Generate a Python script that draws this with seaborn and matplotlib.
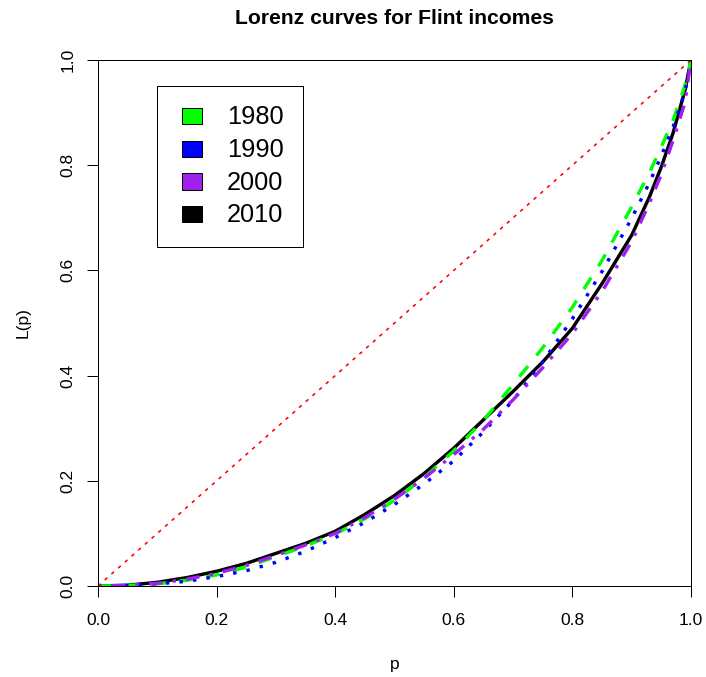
import numpy as np
import pandas as pd
import matplotlib
matplotlib.use("Agg")
import matplotlib.pyplot as plt
import seaborn as sns
from matplotlib.patches import Patch, Rectangle
from matplotlib.legend_handler import HandlerPatch

# ---------------- data ----------------
p = [0, .05, .1, .15, .2, .25, .3, .35, .4, .45, .5, .55, .6, .65, .7, .75,
     .8, .85, .9, .93, .95, .97, .99, 1.0]
L_1980 = [0, .001, .004, .011, .021, .036, .056, .076, .099, .128, .163, .206,
          .257, .315, .383, .453, .530, .619, .721, .786, .835, .886, .952, 1.0]
L_1990 = [0, .001, .004, .009, .018, .029, .045, .066, .092, .121, .155, .194,
          .238, .293, .353, .426, .508, .598, .699, .767, .818, .873, .940, 1.0]
L_2000 = [0, .001, .005, .013, .024, .039, .058, .078, .100, .130, .165, .205,
          .250, .298, .354, .415, .480, .560, .655, .728, .783, .848, .920, 1.0]
L_2010 = [0, .0015, .007, .016, .028, .043, .062, .081, .104, .136, .172, .214,
          .262, .316, .370, .426, .490, .575, .667, .740, .797, .862, .943, 1.0]
years = ["1980", "1990", "2000", "2010"]
equality = [0.0, 1.0]
x_ticks = [0.0, 0.2, 0.4, 0.6, 0.8, 1.0]
y_ticks = [0.0, 0.2, 0.4, 0.6, 0.8, 1.0]

colors = {"1980": "#00FF00", "1990": "#0000FF", "2000": "#A020F0", "2010": "#000000"}
dash = {"1980": (4, 4), "1990": (1, 3), "2000": (1, 3, 4, 3), "2010": ""}

df = pd.DataFrame({
    "p": p * 4,
    "L": L_1980 + L_1990 + L_2000 + L_2010,
    "year": sum([[y] * len(p) for y in years], []),
})

# ---------------- style ----------------
sns.set_theme(style="ticks")
plt.rcParams["font.family"] = ["Liberation Sans", "DejaVu Sans"]
plt.rcParams["axes.linewidth"] = 0.75

W, H, DPI = 706, 677, 100
PX = 72.0 / DPI  # points per pixel

fig = plt.figure(figsize=(W / DPI, H / DPI), dpi=DPI)
fig.patch.set_facecolor("white")
ax = fig.add_axes([98 / W, 91 / H, 593 / W, 526 / H])

order = ["2010", "1980", "1990", "2000"]
LW = 3.4 * PX
sns.lineplot(data=df, x="p", y="L", hue="year", style="year",
             hue_order=order, style_order=order, palette=colors,
             dashes=dash, linewidth=LW, legend=False, ax=ax,
             sort=False, estimator=None)
for ln in ax.get_lines():
    ln.set_solid_joinstyle("round")
    ln.set_dash_joinstyle("round")
ax.plot(equality, equality, color="#FF0000", linewidth=1.6 * PX,
        dashes=(2.2, 3.4))

ax.set_xlim(0, 1)
ax.set_ylim(0, 1)
ax.set_xticks(x_ticks)
ax.set_yticks(y_ticks)
ax.set_xticklabels([f"{v:.1f}" for v in x_ticks])
ax.set_yticklabels([f"{v:.1f}" for v in y_ticks])
for s in ax.spines.values():
    s.set_visible(True)
    s.set_color("black")
    s.set_linewidth(1.0 * PX)

ax.tick_params(axis="both", direction="out", length=10.8 * PX, width=1.0 * PX,
               color="black", labelsize=12.5, labelcolor="black")
ax.tick_params(axis="x", pad=16.0 * PX)
ax.tick_params(axis="y", pad=11.5 * PX)
for lab in ax.get_yticklabels():
    lab.set_rotation(90)
    lab.set_va("center")

ax.set_xlabel("p", fontsize=12.5, labelpad=29 * PX, color="black")
ax.set_ylabel("L(p)", fontsize=12.5, labelpad=30 * PX, color="black")
ax.set_title("Lorenz curves for Flint incomes", fontsize=15.2,
             fontweight="bold", pad=35.5 * PX, color="black")

# ---------------- legend ----------------
LEG_FS = 18.3
def make_box(legend, orig_handle, xdescent, ydescent, width, height, fontsize):
    bw, bh = 20 * PX, 16.3 * PX
    return Rectangle((-xdescent + 4.9 * PX, -ydescent), bw, bh)

handles = [Patch(facecolor=colors[y], edgecolor="black", linewidth=1.0 * PX)
           for y in years]
leg = ax.legend(handles, years, loc="upper left",
                bbox_to_anchor=(157.3 / W, 1 - 85.7 / H),
                bbox_transform=fig.transFigure, borderaxespad=0,
                fontsize=LEG_FS, borderpad=0.77, labelspacing=0.34,
                handlelength=1.47, handleheight=0.7, handletextpad=0.5,
                fancybox=False, shadow=False, framealpha=1,
                handler_map={Patch: HandlerPatch(patch_func=make_box)})
fr = leg.get_frame()
fr.set_edgecolor("black")
fr.set_linewidth(1.0 * PX)
for t in leg.get_texts():
    t.set_color("black")

fig.savefig("out.png", dpi=DPI, facecolor="white")
